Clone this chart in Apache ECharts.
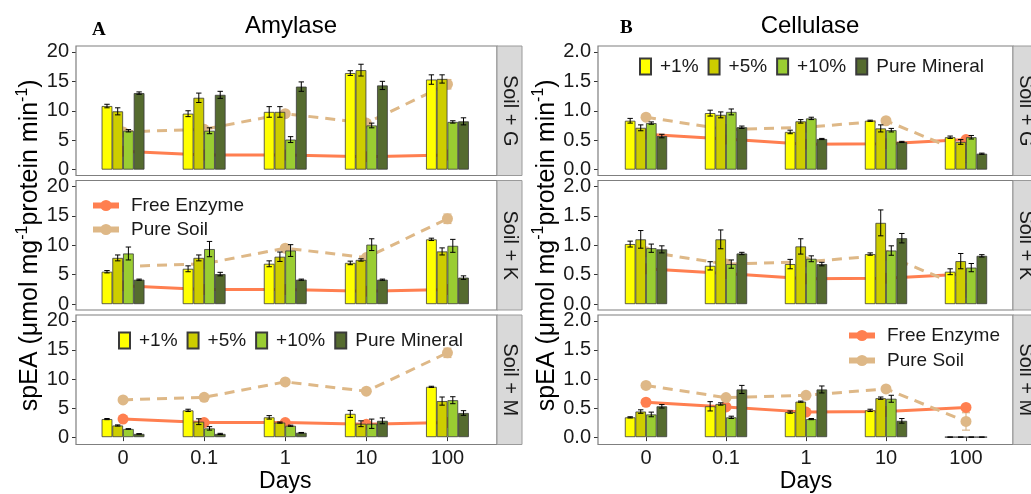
<!DOCTYPE html>
<html>
<head>
<meta charset="utf-8">
<script src="https://cdn.jsdelivr.net/npm/echarts@6/dist/echarts.min.js"></script>
<style>
html, body { margin: 0; padding: 0; background: #fff; }
#chart { width: 1031px; height: 494px; }
</style>
</head>
<body>
<div id="chart"></div>
<script>
var days = ['0', '0.1', '1', '10', '100'];
var groups = ['+1%', '+5%', '+10%', 'Pure Mineral'];
var soils = ['Soil + G', 'Soil + K', 'Soil + M'];
var groupColors = ['#FFFF00', '#CDCD00', '#9ACD32', '#556B2F'];

// rows: +1%, +5%, +10%, Pure Mineral ; columns: days
var amyG = [[10.8, 9.5, 9.8, 16.4, 15.3], [9.9, 12.2, 9.8, 16.9, 15.4], [6.6, 6.6, 5.1, 7.5, 8.1], [13.0, 12.7, 14.1, 14.3, 8.2]];
var amyGErr = [[0.3, 0.5, 0.9, 0.4, 0.8], [0.6, 0.8, 0.9, 1.0, 0.7], [0.2, 0.5, 0.5, 0.4, 0.2], [0.2, 0.6, 0.8, 0.7, 0.6]];
var amyK = [[5.5, 6.0, 6.85, 7.0, 11.0], [7.85, 7.85, 8.05, 7.5, 8.95], [8.6, 9.35, 9.1, 10.1, 9.9], [4.15, 5.1, 4.15, 4.15, 4.5]];
var amyKErr = [[0.2, 0.5, 0.5, 0.3, 0.2], [0.5, 0.5, 0.8, 0.2, 0.6], [1.1, 1.3, 1.0, 1.0, 1.1], [0.1, 0.3, 0.1, 0.1, 0.3]];
var amyM = [[3.1, 4.6, 3.4, 4.0, 8.65], [2.0, 2.65, 2.5, 2.3, 6.2], [1.4, 1.5, 1.95, 2.3, 6.35], [0.55, 0.55, 0.75, 2.8, 4.15]];
var amyMErr = [[0.1, 0.2, 0.3, 0.6, 0.1], [0.1, 0.5, 0.1, 0.5, 0.7], [0.05, 0.3, 0.1, 0.8, 0.6], [0.05, 0.1, 0.05, 0.5, 0.4]];
var amyFree = [3.1, 2.5, 2.5, 2.2, 2.5];
var amyPure = [6.4, 6.85, 9.5, 7.9, 14.5];
var amyPureErr = [0.2, 0.2, 0.3, 0.3, 0.8];

var celG = [[0.83, 0.96, 0.64, 0.83, 0.55], [0.71, 0.93, 0.82, 0.70, 0.47], [0.79, 0.98, 0.87, 0.67, 0.55], [0.57, 0.72, 0.52, 0.47, 0.27]];
var celGErr = [[0.04, 0.05, 0.03, 0.01, 0.02], [0.05, 0.05, 0.03, 0.06, 0.04], [0.02, 0.05, 0.02, 0.03, 0.03], [0.03, 0.02, 0.01, 0.01, 0.01]];
var celK = [[1.02, 0.65, 0.68, 0.85, 0.55], [1.10, 1.10, 0.98, 1.38, 0.73], [0.95, 0.68, 0.77, 0.91, 0.62], [0.93, 0.86, 0.68, 1.12, 0.82]];
var celKErr = [[0.05, 0.07, 0.08, 0.02, 0.05], [0.15, 0.16, 0.13, 0.22, 0.13], [0.07, 0.07, 0.05, 0.08, 0.07], [0.06, 0.02, 0.03, 0.08, 0.02]];
var celM = [[0.34, 0.53, 0.43, 0.46, 0], [0.44, 0.57, 0.61, 0.67, 0], [0.39, 0.34, 0.31, 0.66, 0], [0.53, 0.82, 0.82, 0.28, 0]];
var celMErr = [[0.01, 0.08, 0.02, 0.02, 0], [0.03, 0.02, 0.01, 0.02, 0], [0.04, 0.02, 0.01, 0.06, 0], [0.03, 0.07, 0.06, 0.04, 0]];
var celFree = [0.6, 0.52, 0.43, 0.44, 0.51];
var celPure = [0.89, 0.68, 0.72, 0.83, 0.27];
var celPureErr = [0.02, 0.02, 0.02, 0.02, 0.15];

//布局
var FONT = 'Liberation Sans, Arial, sans-serif';
var BAR_W = 0.132;
var colFrame = [[76, 497], [598, 1013]];
var colGrid = [[82.5, 405.5], [606, 400]];
var rowFrame = [46, 180.5, 315];
var frameH = 129.5;
var stripW = 25;

var panels = [
	{ col: 0, row: 0, m: amyG, e: amyGErr, free: amyFree, pure: amyPure, pureErr: amyPureErr, max: 20, step: 5 },
	{ col: 0, row: 1, m: amyK, e: amyKErr, free: amyFree, pure: amyPure, pureErr: amyPureErr, max: 20, step: 5 },
	{ col: 0, row: 2, m: amyM, e: amyMErr, free: amyFree, pure: amyPure, pureErr: amyPureErr, max: 20, step: 5 },
	{ col: 1, row: 0, m: celG, e: celGErr, free: celFree, pure: celPure, pureErr: celPureErr, max: 2, step: 0.5 },
	{ col: 1, row: 1, m: celK, e: celKErr, free: celFree, pure: celPure, pureErr: celPureErr, max: 2, step: 0.5 },
	{ col: 1, row: 2, m: celM, e: celMErr, free: celFree, pure: celPure, pureErr: celPureErr, max: 2, step: 0.5 }
];

function barErr(params, api) {
	var d = api.value(0), g = api.value(1);
	var band = api.size([1, 0])[0];
	var x = api.coord([d, 0])[0] + (g - 1.5) * band * BAR_W;
	var y1 = api.coord([d, api.value(2)])[1];
	var y2 = api.coord([d, api.value(3)])[1];
	var c = 2.7;
	var st = { stroke: '#000', lineWidth: 1 };
	return {
		type: 'group',
		children: [
			{ type: 'line', shape: { x1: x, y1: y1, x2: x, y2: y2 }, style: st },
			{ type: 'line', shape: { x1: x - c, y1: y1, x2: x + c, y2: y1 }, style: st },
			{ type: 'line', shape: { x1: x - c, y1: y2, x2: x + c, y2: y2 }, style: st }
		]
	};
}

function pointErr(params, api) {
	var x = api.coord([api.value(0), 0])[0];
	var y1 = api.coord([api.value(0), api.value(1)])[1];
	var y2 = api.coord([api.value(0), api.value(2)])[1];
	var c = 4;
	var st = { stroke: '#D9B88C', lineWidth: 1.2 };
	return {
		type: 'group',
		children: [
			{ type: 'line', shape: { x1: x, y1: y1, x2: x, y2: y2 }, style: st },
			{ type: 'line', shape: { x1: x - c, y1: y1, x2: x + c, y2: y1 }, style: st },
			{ type: 'line', shape: { x1: x - c, y1: y2, x2: x + c, y2: y2 }, style: st }
		]
	};
}

var grids = [], xAxes = [], yAxes = [], series = [], graphics = [];

panels.forEach(function(p, i) {
	var top = rowFrame[p.row] + frameH / 22;
	var h = frameH * 20 / 22;
	var bottomRow = p.row === 2;
	grids.push({ left: colGrid[p.col][0], width: colGrid[p.col][1], top: top, height: h });
	xAxes.push({
		type: 'category', gridIndex: i, data: days,
		offset: frameH / 22,
		axisLine: { show: false },
		axisTick: { show: bottomRow, alignWithLabel: true, length: 4, lineStyle: { color: '#333' } },
		axisLabel: { show: bottomRow, fontSize: 20, color: '#1A1A1A', margin: 5, fontFamily: FONT },
		name: bottomRow ? 'Days' : '', nameLocation: 'middle', nameGap: 27,
		nameTextStyle: { fontSize: 23, color: '#000', fontFamily: FONT }
	});
	var yName = '{a|spEA (μmol mg}{s|-1}{a|protein min}{s|-1}{a|)}';
	yAxes.push({
		type: 'value', gridIndex: i, min: 0, max: p.max, interval: p.step,
		offset: colGrid[p.col][0] - colFrame[p.col][0],
		axisLine: { show: false },
		axisTick: { show: true, length: 4, lineStyle: { color: '#333' } },
		splitLine: { show: false },
		axisLabel: {
			fontSize: 20, color: '#1A1A1A', margin: 7, fontFamily: FONT,
			formatter: function(v) { return p.step < 1 ? v.toFixed(1) : String(v); }
		},
		name: p.row === 1 ? yName : '', nameLocation: 'middle', nameRotate: 90, nameGap: 28,
		nameTextStyle: {
			fontFamily: FONT,
			rich: {
				a: { fontSize: 25, color: '#000', fontFamily: FONT, lineHeight: 32 },
				s: { fontSize: 16, color: '#000', fontFamily: FONT, verticalAlign: 'top', lineHeight: 16 }
			}
		}
	});

	// 线在柱子后面
	series.push({
		type: 'line', name: 'Free Enzyme', xAxisIndex: i, yAxisIndex: i, data: p.free, z: 1,
		symbol: 'circle', symbolSize: 11,
		lineStyle: { color: '#FF7F50', width: 3 }, itemStyle: { color: '#FF7F50' }
	});
	series.push({
		type: 'line', name: 'Pure Soil', xAxisIndex: i, yAxisIndex: i, data: p.pure, z: 1,
		symbol: 'circle', symbolSize: 11,
		lineStyle: { color: '#DEB887', width: 3, type: [10, 7] }, itemStyle: { color: '#DEB887' }
	});
	var pe = p.pure.map(function(v, d) { return [d, v - p.pureErr[d], v + p.pureErr[d]]; });
	series.push({ type: 'custom', name: 'pureErr', xAxisIndex: i, yAxisIndex: i, data: pe, renderItem: pointErr, z: 1 });

	var errData = [];
	groups.forEach(function(g, gi) {
		series.push({
			type: 'bar', name: g, xAxisIndex: i, yAxisIndex: i, data: p.m[gi],
			barWidth: (BAR_W * 100) + '%', barGap: '0%', z: 2,
			itemStyle: { color: groupColors[gi], borderColor: '#3A3A3A', borderWidth: 0.8 }
		});
		p.m[gi].forEach(function(v, d) {
			errData.push([d, gi, v - p.e[gi][d], v + p.e[gi][d]]);
		});
	});
	series.push({ type: 'custom', name: 'barErr', xAxisIndex: i, yAxisIndex: i, data: errData, renderItem: barErr, z: 3 });

	// 面板边框和分面标签
	var fx = colFrame[p.col][0], fw = colFrame[p.col][1] - colFrame[p.col][0], fy = rowFrame[p.row];
	graphics.push({ type: 'rect', silent: true, z: 100, shape: { x: fx, y: fy, width: fw, height: frameH }, style: { fill: 'none', stroke: '#7F7F7F', lineWidth: 1.2 } });
	graphics.push({ type: 'rect', silent: true, z: 100, shape: { x: fx + fw, y: fy, width: stripW, height: frameH }, style: { fill: '#D9D9D9', stroke: '#9A9A9A', lineWidth: 1 } });
	graphics.push({
		type: 'text', silent: true, z: 101, x: fx + fw + stripW / 2, y: fy + frameH / 2, rotation: -Math.PI / 2,
		style: { text: soils[p.row], fill: '#1A1A1A', font: '20px ' + FONT, align: 'center', verticalAlign: 'middle', textAlign: 'center', textVerticalAlign: 'middle' }
	});
});

var lineLegend = {
	itemWidth: 26, itemHeight: 14,
	lineStyle: { width: 6, type: 'solid' },
	textStyle: { fontSize: 19, color: '#1A1A1A', fontFamily: FONT, padding: [0, 0, 0, 7] }
};
var barLegend = {
	icon: 'rect', itemWidth: 11, itemHeight: 16, itemGap: 9,
	textStyle: { fontSize: 19, color: '#1A1A1A', fontFamily: FONT, padding: [0, 0, 0, 4] }
};

var option = {
	animation: false,
	textStyle: { fontFamily: FONT },
	title: [
		{ text: 'Amylase', left: 286, top: 9, textAlign: 'center', textStyle: { fontSize: 24, fontWeight: 'normal', color: '#000', fontFamily: FONT } },
		{ text: 'Cellulase', left: 805, top: 9, textAlign: 'center', textStyle: { fontSize: 24, fontWeight: 'normal', color: '#000', fontFamily: FONT } },
		{ text: 'A', left: 87, top: 16, textStyle: { fontSize: 19, fontWeight: 'bold', color: '#000', fontFamily: 'Liberation Serif, Times New Roman, serif' } },
		{ text: 'B', left: 615, top: 14, textStyle: { fontSize: 19, fontWeight: 'bold', color: '#000', fontFamily: 'Liberation Serif, Times New Roman, serif' } }
	],
	legend: [
		Object.assign({ data: ['Free Enzyme', 'Pure Soil'], orient: 'vertical', left: 85, top: 191, itemGap: 5 }, lineLegend),
		Object.assign({ data: groups, left: 113, top: 326 }, barLegend),
		Object.assign({ data: groups, left: 634, top: 52 }, barLegend),
		Object.assign({ data: ['Free Enzyme', 'Pure Soil'], orient: 'vertical', left: 841, top: 321, itemGap: 6 }, lineLegend)
	],
	grid: grids,
	xAxis: xAxes,
	yAxis: yAxes,
	series: series,
	graphic: graphics
};

var myChart = echarts.init(document.getElementById('chart'));
myChart.setOption(option);
</script>
</body>
</html>
